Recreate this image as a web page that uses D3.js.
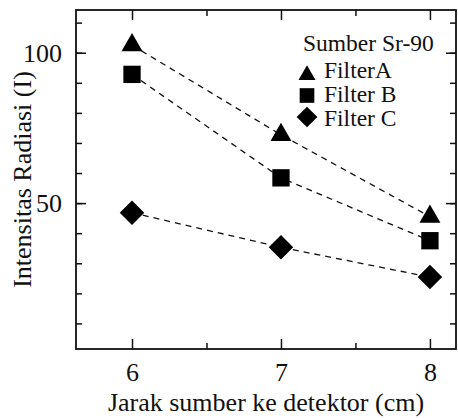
<!DOCTYPE html>
<html>
<head>
<meta charset="utf-8" />
<script src="https://cdn.jsdelivr.net/npm/d3@7"></script>
<style>
	body {
		margin: 0;
		background: #fff;
	}
</style>
</head>
<body>
<div id="chart"></div>
<script>
const distances = [6, 7, 8];
const filterA = [102.5, 72.7, 45.5];
const filterB = [92.8, 58.4, 37.5];
const filterC = [46.8, 35.3, 25.4];
const seriesNames = ["FilterA", "Filter B", "Filter C"];
const legendTitle = "Sumber Sr-90";
const xTicks = [6, 7, 8];
const yTicks = [50, 100];

const w = 458;
const h = 418;
const plotLeft = 76;
const plotRight = 456;
const plotTop = 10;
const plotBottom = 349;
const serif = "'Times New Roman', Times, 'Liberation Serif', Tinos, 'Nimbus Roman', 'DejaVu Serif', serif";

const series = [
	{ name: seriesNames[0], values: filterA, shape: "triangle" },
	{ name: seriesNames[1], values: filterB, shape: "square" },
	{ name: seriesNames[2], values: filterC, shape: "diamond" },
];

const svg = d3
	.select("#chart")
	.append("svg")
	.attr("width", w)
	.attr("height", h);

const xScale = d3.scaleLinear().domain([5.624, 8.175]).range([plotLeft, plotRight]);
const yScale = d3.scaleLinear().domain([1.5, 114.2]).range([plotBottom, plotTop]);

// marker paths, triangle/square/diamond
function markerPath(shape, big) {
	if (shape === "triangle") {
		return d3.symbol(d3.symbolTriangle, big ? 191 : 125)();
	}
	return d3.symbol(d3.symbolSquare, big ? 300 : 215)();
}

// dashed lines
const line = d3
	.line()
	.x((d, i) => xScale(distances[i]))
	.y((d) => yScale(d));

svg
	.selectAll(".series-line")
	.data(series)
	.enter()
	.append("path")
	.attr("class", "series-line")
	.attr("d", (d) => line(d.values))
	.attr("fill", "none")
	.attr("stroke", "#111")
	.attr("stroke-width", 1.3)
	.attr("stroke-dasharray", "6,5");

// markers
series.forEach((s) => {
	svg
		.selectAll(".m-" + s.shape)
		.data(s.values)
		.enter()
		.append("path")
		.attr("class", "m-" + s.shape)
		.attr("d", markerPath(s.shape, true))
		.attr("fill", "#000")
		.attr("transform", (d, i) => {
			let t = "translate(" + xScale(distances[i]) + "," + yScale(d) + ")";
			return s.shape === "diamond" ? t + " rotate(45)" : t;
		});
});

// axes: ticks pointing inward on all four sides
const minorY = d3.range(10, 111, 10);
const minorX = [6.5, 7.5];

function addAxis(axis, transform) {
	const g = svg.append("g").attr("transform", transform).call(axis);
	g.select(".domain").remove();
	g.selectAll("line").attr("stroke", "#111").attr("stroke-width", 1.5);
	return g;
}

addAxis(d3.axisLeft(yScale).tickValues(minorY).tickSize(-6).tickFormat(""), "translate(" + plotLeft + ",0)");
addAxis(d3.axisRight(yScale).tickValues(minorY).tickSize(-6).tickFormat(""), "translate(" + plotRight + ",0)");
addAxis(d3.axisBottom(xScale).tickValues(minorX).tickSize(-6).tickFormat(""), "translate(0," + plotBottom + ")");
addAxis(d3.axisTop(xScale).tickValues(minorX).tickSize(-6).tickFormat(""), "translate(0," + plotTop + ")");

const yAxis = addAxis(
	d3.axisLeft(yScale).tickValues(yTicks).tickSize(-10).tickPadding(14).tickFormat((d) => d),
	"translate(" + plotLeft + ",0)"
);
addAxis(d3.axisRight(yScale).tickValues(yTicks).tickSize(-10).tickFormat(""), "translate(" + plotRight + ",0)");

const xAxis = addAxis(
	d3.axisBottom(xScale).tickValues(xTicks).tickSize(-10).tickPadding(14).tickFormat((d) => d),
	"translate(0," + plotBottom + ")"
);
addAxis(d3.axisTop(xScale).tickValues(xTicks).tickSize(-10).tickFormat(""), "translate(0," + plotTop + ")");

svg
	.selectAll(".tick text")
	.style("font-family", serif)
	.style("font-size", "26px")
	.attr("fill", "#111");

// frame
svg
	.append("rect")
	.attr("x", plotLeft)
	.attr("y", plotTop)
	.attr("width", plotRight - plotLeft)
	.attr("height", plotBottom - plotTop)
	.attr("fill", "none")
	.attr("stroke", "#111")
	.attr("stroke-width", 1.8);

// axis titles
svg
	.append("text")
	.attr("text-anchor", "middle")
	.attr("x", (plotLeft + plotRight) / 2)
	.attr("y", 411)
	.style("font-family", serif)
	.style("font-size", "26px")
	.attr("fill", "#111")
	.text("Jarak sumber ke detektor (cm)");

svg
	.append("text")
	.attr("text-anchor", "middle")
	.attr("transform", "translate(31," + (plotTop + plotBottom) / 2 + ") rotate(-90)")
	.style("font-family", serif)
	.style("font-size", "26px")
	.attr("fill", "#111")
	.text("Intensitas Radiasi (I)");

// legend
const legend = svg.append("g");
legend
	.append("text")
	.attr("x", 303)
	.attr("y", 51)
	.style("font-family", serif)
	.style("font-size", "23.5px")
	.attr("fill", "#111")
	.text(legendTitle);

const legendMarkY = [75, 95.5, 117];
series.forEach((s, i) => {
	legend
		.append("path")
		.attr("d", markerPath(s.shape, false))
		.attr("fill", "#000")
		.attr(
			"transform",
			"translate(307," + legendMarkY[i] + ")" + (s.shape === "diamond" ? " rotate(45)" : "")
		);
	legend
		.append("text")
		.attr("x", 324)
		.attr("y", 78 + i * 24)
		.style("font-family", serif)
		.style("font-size", "23.5px")
		.attr("fill", "#111")
		.text(s.name);
});
</script>
</body>
</html>
